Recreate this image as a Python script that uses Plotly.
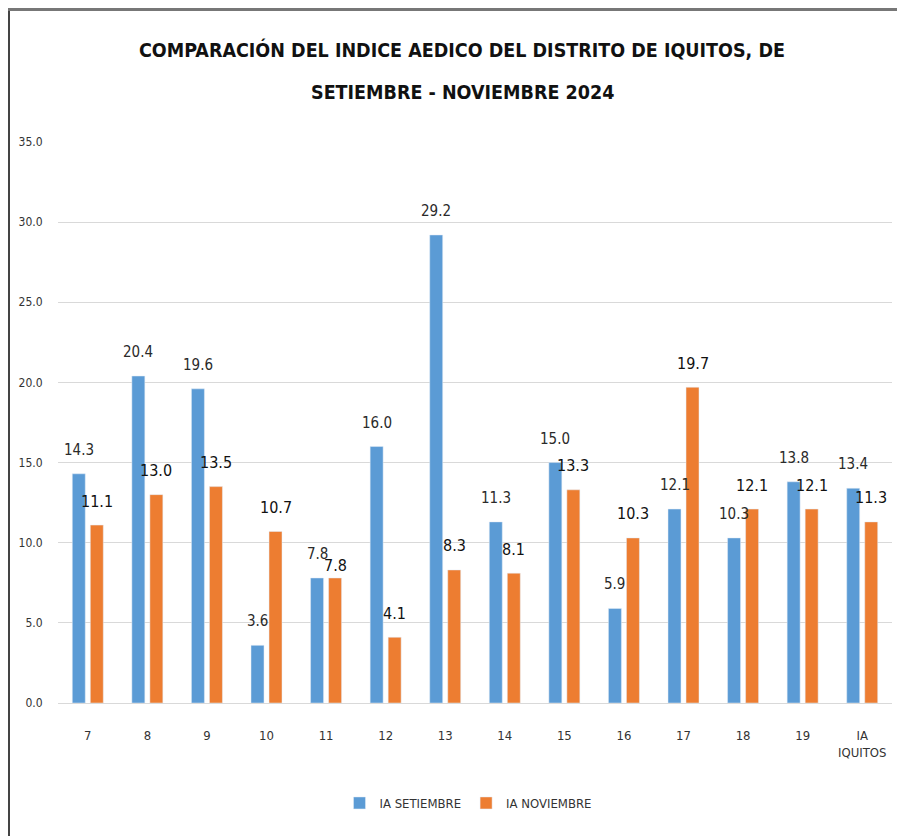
import plotly.graph_objects as go

categories = ["7", "8", "9", "10", "11", "12", "13", "14", "15", "16", "17", "18", "19", "IA<br>IQUITOS"]
setiembre = [14.3, 20.4, 19.6, 3.6, 7.8, 16.0, 29.2, 11.3, 15.0, 5.9, 12.1, 10.3, 13.8, 13.4]
noviembre = [11.1, 13.0, 13.5, 10.7, 7.8, 4.1, 8.3, 8.1, 13.3, 10.3, 19.7, 12.1, 12.1, 11.3]
y_ticks = [0, 5, 10, 15, 20, 25, 30, 35]

FONT = "DejaVu Sans Condensed, Liberation Sans Narrow, Arial Narrow, DejaVu Sans, sans-serif"
BLUE = "#5B9BD5"
ORANGE = "#ED7D31"

# page body has an 8px margin; figure occupies page pixels 8..905 x 8..836
OFF = 8
W, H = 905 - OFF, 836 - OFF
L, R, T, B = 58 - OFF, 13, 142 - OFF, 133
pw, ph = W - L - R, H - T - B

def px_x(x):
    return (x - OFF - L) / pw

def px_y(y):
    return (H - B - (y - OFF)) / ph

fig = go.Figure()
fig.add_trace(go.Bar(x=categories, y=setiembre, name="IA SETIEMBRE", marker_color=BLUE))
fig.add_trace(go.Bar(x=categories, y=noviembre, name="IA NOVIEMBRE", marker_color=ORANGE))

annotations = []
for i, v in enumerate(setiembre):
    annotations.append(dict(x=i, y=v, xref="x", yref="y", text=f"{v:.1f}", showarrow=False,
                            xshift=-9, yshift=24, font=dict(family=FONT, size=15, color="#2a2a2a")))
for i, v in enumerate(noviembre):
    annotations.append(dict(x=i, y=v, xref="x", yref="y", text=f"{v:.1f}", showarrow=False,
                            xshift=9, yshift=24 if v != 7.8 else 12,
                            font=dict(family=FONT, size=16, color="#111")))

annotations.append(dict(x=px_x(462), y=px_y(50), xref="paper", yref="paper", showarrow=False,
                        xanchor="center", yanchor="middle",
                        text="<b>COMPARACIÓN DEL INDICE AEDICO DEL DISTRITO DE IQUITOS, DE</b>",
                        font=dict(family=FONT, size=19.5, color="#111")))
annotations.append(dict(x=px_x(462), y=px_y(93), xref="paper", yref="paper", showarrow=False,
                        xanchor="center", yanchor="middle",
                        text="<b>SETIEMBRE - NOVIEMBRE 2024</b>",
                        font=dict(family=FONT, size=19.5, color="#111")))

shapes = [
    dict(type="line", xref="paper", yref="paper", x0=px_x(9), x1=px_x(9), y0=px_y(9), y1=px_y(836),
         line=dict(color="#444", width=2)),
    dict(type="line", xref="paper", yref="paper", x0=px_x(8), x1=px_x(905), y0=px_y(9.5), y1=px_y(9.5),
         line=dict(color="#777", width=3)),
]

fig.update_layout(
    width=W, height=H,
    margin=dict(l=L, r=R, t=T, b=B),
    paper_bgcolor="white", plot_bgcolor="white",
    barmode="group", bargap=0.395, bargroupgap=0.28,
    font=dict(family=FONT, size=13, color="#333"),
    showlegend=True,
    legend=dict(orientation="h", x=px_x(468), xanchor="center", y=px_y(803), yanchor="middle",
                font=dict(family=FONT, size=13, color="#333"), itemwidth=30),
    annotations=annotations,
    shapes=shapes,
)
fig.update_xaxes(type="category", range=[-0.5, len(categories) - 0.5],
                 showgrid=False, showline=False, zeroline=False,
                 ticks="outside", ticklen=20, tickcolor="rgba(0,0,0,0)",
                 tickfont=dict(family=FONT, size=13, color="#333"))
fig.update_yaxes(range=[0, 35], tickvals=y_ticks, ticktext=[f"{v:.1f}" for v in y_ticks],
                 showgrid=True, gridcolor="#D9D9D9", gridwidth=1, zeroline=True,
                 zerolinecolor="#D9D9D9", zerolinewidth=1, showline=False,
                 ticks="outside", ticklen=12, tickcolor="rgba(0,0,0,0)",
                 tickfont=dict(family=FONT, size=12, color="#333"))

fig.write_html("out.html")
